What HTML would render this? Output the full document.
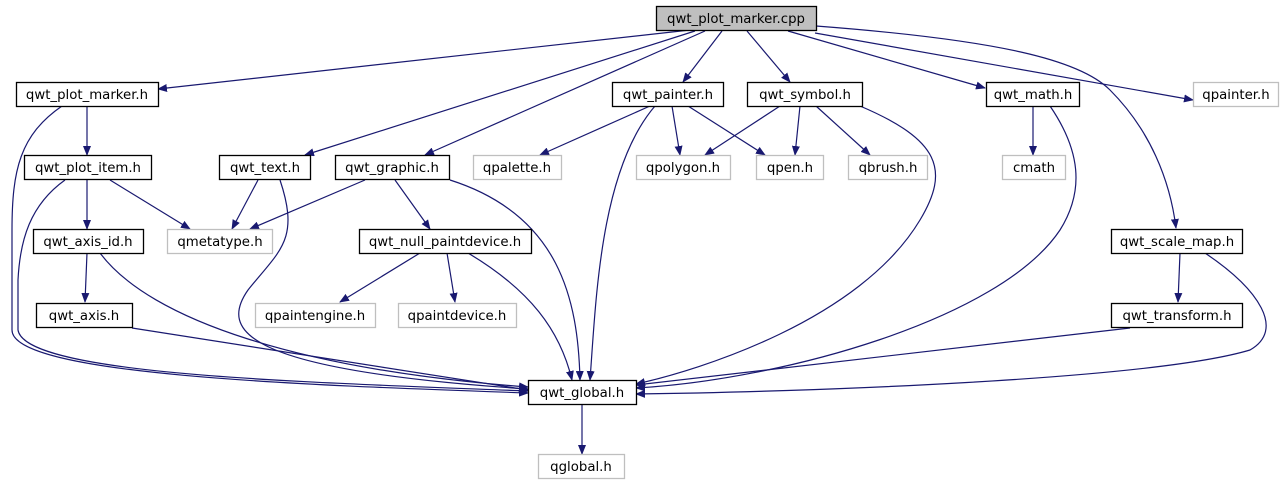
<!DOCTYPE html>
<html><head><meta charset="utf-8"><style>
html,body{margin:0;padding:0;background:#fff;width:1283px;height:485px;overflow:hidden}
text{font-family:"DejaVu Sans","Liberation Sans",sans-serif;font-size:13.3px;fill:#000}
</style></head><body>
<svg width="1283" height="485" viewBox="0 0 1283 485" xmlns="http://www.w3.org/2000/svg">
<defs><marker id="a" markerWidth="10" markerHeight="8" refX="9" refY="4" orient="auto" markerUnits="userSpaceOnUse"><path d="M0,0 L10,4 L0,8 z" fill="#191970"/></marker></defs>
<g fill="none" stroke="#191970" stroke-width="1.2" marker-end="url(#a)">
<path d="M690,30 L158,89"/>
<path d="M695,31 L305,155"/>
<path d="M705,31 L425,155"/>
<path d="M722,31 L683,82"/>
<path d="M747,31 L790,82"/>
<path d="M788,31 L985,88"/>
<path d="M815,33 L1193,100"/>
<path d="M816,26 C1000,40 1080,60 1110,90 C1150,130 1170,180 1176,228"/>
<path d="M87,106 L87,155"/>
<path d="M62,106 C20,135 12,170 12,230 L12,330 C12,375 300,385 528,393"/>
<path d="M87,180 L87,229"/>
<path d="M110,180 L190,229"/>
<path d="M65,180 C30,205 20,240 18,280 L18,330 C25,375 300,382 528,391"/>
<path d="M258,180 L232,229"/>
<path d="M280,180 C300,240 280,250 248,290 C220,330 240,370 528,389"/>
<path d="M365,180 L250,229"/>
<path d="M395,180 L430,229"/>
<path d="M450,180 C560,215 578,300 580,380"/>
<path d="M650,106 L540,155"/>
<path d="M672,106 L680,155"/>
<path d="M688,106 L765,155"/>
<path d="M655,106 C600,170 596,300 590,380"/>
<path d="M780,106 L705,155"/>
<path d="M800,106 L795,155"/>
<path d="M816,106 L870,155"/>
<path d="M860,106 C940,140 950,170 920,220 C860,320 700,370 636,384"/>
<path d="M1033,106 L1033,155"/>
<path d="M1050,106 C1080,150 1085,190 1060,230 C1000,320 780,380 636,388"/>
<path d="M87,253 L85,302"/>
<path d="M100,253 C150,320 300,370 528,387"/>
<path d="M132,328 L528,390"/>
<path d="M420,253 L340,302"/>
<path d="M447,253 L455,302"/>
<path d="M468,253 C530,290 560,330 572,380"/>
<path d="M1180,253 L1178,302"/>
<path d="M1205,253 C1260,290 1285,330 1250,350 C1150,380 800,392 636,394"/>
<path d="M1130,328 L636,385"/>
<path d="M582,404 L582,454"/>
</g>
<g stroke-width="1.3">
<rect x="656.5" y="6.5" width="160" height="24" fill="#bfbfbf" stroke="#000"/>
<g fill="#fff" stroke="#000">
<rect x="16.5" y="82.5" width="142" height="24"/>
<rect x="612.5" y="82.5" width="111" height="24"/>
<rect x="747.5" y="82.5" width="115" height="24"/>
<rect x="986.5" y="82.5" width="93" height="24"/>
<rect x="24.5" y="155.5" width="127" height="24"/>
<rect x="219.5" y="155.5" width="91" height="24"/>
<rect x="335.5" y="155.5" width="114" height="24"/>
<rect x="33.5" y="229.5" width="110" height="24"/>
<rect x="359.5" y="229.5" width="172" height="24"/>
<rect x="1111.5" y="229.5" width="131" height="24"/>
<rect x="36.5" y="303.5" width="96" height="24"/>
<rect x="1111.5" y="303.5" width="131" height="24"/>
<rect x="528.5" y="380.5" width="108" height="24"/>
</g>
<g fill="#fff" stroke="#bfbfbf">
<rect x="1193.5" y="82.5" width="85" height="24"/>
<rect x="473.5" y="155.5" width="88" height="24"/>
<rect x="636.5" y="155.5" width="94" height="24"/>
<rect x="756.5" y="155.5" width="67" height="24"/>
<rect x="848.5" y="155.5" width="79" height="24"/>
<rect x="1002.5" y="155.5" width="63" height="24"/>
<rect x="167.5" y="229.5" width="105" height="24"/>
<rect x="255.5" y="303.5" width="120" height="24"/>
<rect x="398.5" y="303.5" width="118" height="24"/>
<rect x="538.5" y="454.5" width="86" height="24"/>
</g>
</g>
<g text-anchor="middle">
<text x="736" y="23">qwt_plot_marker.cpp</text>
<text x="87" y="99">qwt_plot_marker.h</text>
<text x="668" y="99">qwt_painter.h</text>
<text x="805" y="99">qwt_symbol.h</text>
<text x="1033" y="99">qwt_math.h</text>
<text x="1236" y="99">qpainter.h</text>
<text x="88" y="172">qwt_plot_item.h</text>
<text x="265" y="172">qwt_text.h</text>
<text x="392" y="172">qwt_graphic.h</text>
<text x="517" y="172">qpalette.h</text>
<text x="683" y="172">qpolygon.h</text>
<text x="790" y="172">qpen.h</text>
<text x="888" y="172">qbrush.h</text>
<text x="1034" y="172">cmath</text>
<text x="220" y="246">qmetatype.h</text>
<text x="88" y="246">qwt_axis_id.h</text>
<text x="445" y="246">qwt_null_paintdevice.h</text>
<text x="1177" y="246">qwt_scale_map.h</text>
<text x="84" y="320">qwt_axis.h</text>
<text x="315" y="320">qpaintengine.h</text>
<text x="457" y="320">qpaintdevice.h</text>
<text x="1177" y="320">qwt_transform.h</text>
<text x="582" y="397">qwt_global.h</text>
<text x="581" y="471">qglobal.h</text>
</g>
</svg>
</body></html>
